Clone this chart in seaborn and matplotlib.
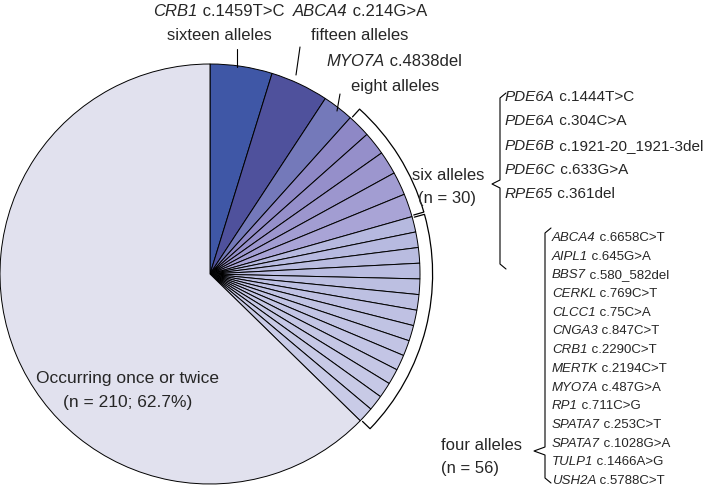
import matplotlib
matplotlib.use("Agg")
import matplotlib.pyplot as plt
import seaborn as sns
import numpy as np
from matplotlib.patches import Arc

sns.set_style("white")
plt.rcParams.update({"font.family": "Liberation Sans"})

top_labels = ["CRB1 c.1459T>C", "ABCA4 c.214G>A", "MYO7A c.4838del"]
top_counts = [16, 15, 8]
six_variants = [("PDE6A", "c.1444T>C"), ("PDE6A", "c.304C>A"), ("PDE6B", "c.1921-20_1921-3del"),
                ("PDE6C", "c.633G>A"), ("RPE65", "c.361del")]
six_count = 6
four_variants = [("ABCA4", "c.6658C>T"), ("AIPL1", "c.645G>A"), ("BBS7", "c.580_582del"),
                 ("CERKL", "c.769C>T"), ("CLCC1", "c.75C>A"), ("CNGA3", "c.847C>T"),
                 ("CRB1", "c.2290C>T"), ("MERTK", "c.2194C>T"), ("MYO7A", "c.487G>A"),
                 ("RP1", "c.711C>G"), ("SPATA7", "c.253C>T"), ("SPATA7", "c.1028G>A"),
                 ("TULP1", "c.1466A>G"), ("USH2A", "c.5788C>T")]
four_count = 4
rare_count = 210

values = top_counts + [six_count] * len(six_variants) + [four_count] * len(four_variants) + [rare_count]
total = sum(values)

colors = ["#3f57a6", "#4f519c", "#7479ba"]
colors += [c for c in sns.blend_palette(["#8e88c6", "#a9a4d6"], len(six_variants))]
colors += [c for c in sns.blend_palette(["#b6b9df", "#c9cbe7"], len(four_variants))]
colors += ["#e1e1ee"]

fig = plt.figure(figsize=(7.17, 4.89), dpi=100)
ax = fig.add_axes([0, 4/489, 420/717, 420/489])
ax.pie(values, colors=colors, startangle=90, counterclock=False,
       wedgeprops=dict(edgecolor="black", linewidth=0.7))
ax.set_xlim(-1, 1); ax.set_ylim(-1, 1); ax.set_aspect("equal")

def ang(cum):
    return 90 - 360 * cum / total

def bracket(a1, a2, r=1.06, r0=1.01):
    ax.add_patch(Arc((0, 0), 2*r, 2*r, theta1=a2, theta2=a1, lw=0.9, color="black", clip_on=False))
    for a in (a1, a2):
        t = np.deg2rad(a)
        ax.plot([r0*np.cos(t), r*np.cos(t)], [r0*np.sin(t), r*np.sin(t)], color="black", lw=0.9, clip_on=False)

c0 = sum(top_counts)
c1 = c0 + six_count * len(six_variants)
c2 = c1 + four_count * len(four_variants)
bracket(ang(c0) - 0.3, ang(c1) + 0.3)
bracket(ang(c1) - 0.3, ang(c2) + 0.3)

ov = fig.add_axes([0, 0, 1, 1]); ov.set_xlim(0, 717); ov.set_ylim(489, 0); ov.axis("off")
renderer = fig.canvas.get_renderer()

def width(s, fs, style):
    t = ov.text(0, 0, s, fontsize=fs, style=style)
    w = t.get_window_extent(renderer).width
    t.remove()
    return w

def lab(x, y, gene, rest, fs=12, ha="center"):
    wg = width(gene, fs, "italic")
    ws = width(" " + rest, fs, "normal")
    x0 = x - (wg + ws) / 2 if ha == "center" else x
    ov.text(x0, y, gene, fontsize=fs, style="italic", ha="left", va="center")
    ov.text(x0 + wg, y, " " + rest, fontsize=fs, ha="left", va="center")

words = ["sixteen", "fifteen", "eight"]
pos = [(219, 12, 219, 36), (360, 12, 360, 36), (394, 62, 395, 86)]
for (g, c), w, (x1, y1, x2, y2) in zip([l.split(" ", 1) for l in top_labels], words, pos):
    lab(x1, y1, g, c)
    ov.text(x2, y2, f"{w} alleles", fontsize=12, ha="center", va="center")
ov.plot([237, 237], [50, 68], color="black", lw=0.8)
ov.plot([300, 296], [48, 76], color="black", lw=0.8)
ov.plot([340, 337], [95, 112], color="black", lw=0.8)

ov.text(412, 175, "six alleles", fontsize=12, ha="left", va="center")
ov.text(418, 198, f"(n = {six_count*len(six_variants)})", fontsize=12, ha="left", va="center")
ov.text(441, 446, "four alleles", fontsize=12, ha="left", va="center")
ov.text(441, 469, f"(n = {four_count*len(four_variants)})", fontsize=12, ha="left", va="center")

def brace(x, y0, y1, ymid, xl):
    ov.plot([x+6, x, x, xl, x, x, x+6], [y0, y0+5, ymid-4, ymid, ymid+4, y1-5, y1], color="black", lw=0.8)

brace(500, 94, 270, 185, 492)
for i, (g, c) in enumerate(six_variants):
    lab(505, 97 + i*24.3, g, c, fs=11, ha="left")
brace(545, 229, 484, 452, 534)
for i, (g, c) in enumerate(four_variants):
    lab(552, 238 + i*18.7, g, c, fs=9.5, ha="left")

ov.text(128, 378, "Occurring once or twice", fontsize=12.5, ha="center", va="center")
ov.text(128, 402, f"(n = {rare_count}; {100*rare_count/total:.1f}%)", fontsize=12.5, ha="center", va="center")

fig.savefig("out.png", dpi=100)
